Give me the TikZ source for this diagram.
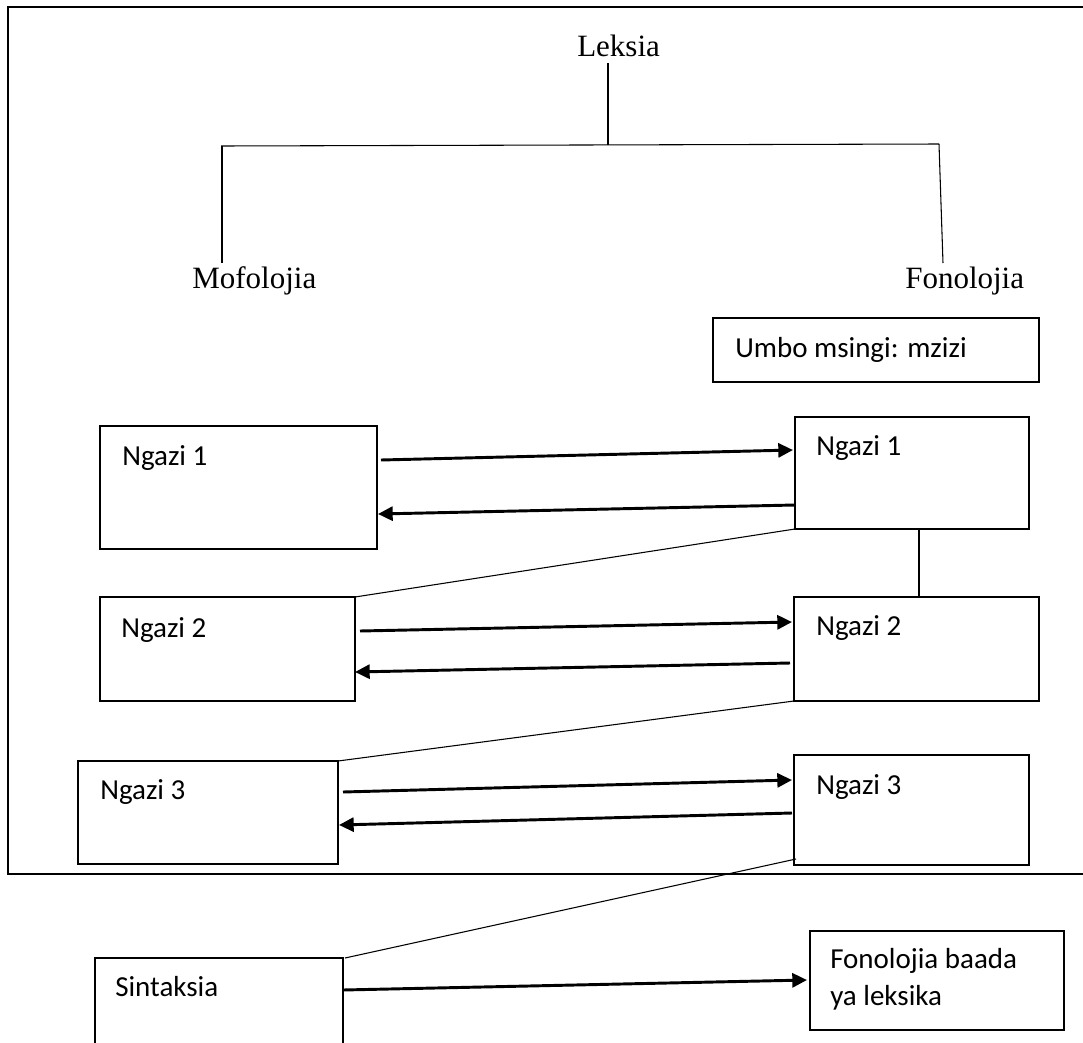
\documentclass[tikz,border=0pt]{standalone}
\usepackage{fontspec}
\setmainfont{Liberation Serif}
\newfontfamily\calfont{Carlito}
\usetikzlibrary{arrows.meta,calc,fit}
\tikzset{
  boxnode/.style={draw=black, line width=1.1pt, inner sep=0pt, outer sep=0pt, rectangle},
  serifl/.style={anchor=base west, inner sep=0pt, font=\fontsize{23.25pt}{28pt}\selectfont},
  cal/.style={anchor=base west, inner sep=0pt, font=\calfont\fontsize{21.75pt}{26pt}\selectfont},
  arr/.style={line width=2.2pt, -{Triangle[length=11pt,width=10.5pt]}},
  thin/.style={line width=0.8pt},
  framel/.style={line width=1.9pt}
}
\begin{document}
\begin{tikzpicture}[x=0.75pt,y=-0.75pt]
\useasboundingbox (0,0) rectangle (1083,1043);
% outer frame
\draw[framel] (8,7) rectangle (1095,874);
% tree
\node[serifl] (lek) at (577,56) {Leksia};
\node[serifl] (mof) at (192,288) {Mofolojia};
\node[serifl] (fon) at (905,288) {Fonolojia};
\coordinate (ltop) at (608,63);
\coordinate (lmid) at (608,145);
\coordinate (hl) at (221,146);
\coordinate (hr) at (939,144);
\coordinate (mofT) at (222,263);
\coordinate (fonT) at (943,263);
\draw[thin] (ltop) -- (lmid);
\draw[thin] (hl) -- (hr);
\draw[thin] (222,146) -- (mofT);
\draw[thin] (hr) -- (fonT);
% boxes
\node[boxnode, fit={(713,318) (1039,382)}] (umbo) {};
\node[cal] (umbot) at (735,357) {Umbo msingi: mzizi};
\node[boxnode, fit={(100,426) (377,549)}] (L1) {};
\node[boxnode, fit={(795,417) (1029,529)}] (R1) {};
\node[boxnode, fit={(100,597) (355,701)}] (L2) {};
\node[boxnode, fit={(794,597) (1039,701)}] (R2) {};
\node[boxnode, fit={(78,761) (338,864)}] (L3) {};
\node[boxnode, fit={(794,755) (1029,865)}] (R3) {};
\node[boxnode, fit={(95,958) (343,1070)}] (S) {};
\node[boxnode, fit={(810,931) (1064,1030)}] (F) {};
% texts
\node[cal] (L1t) at (122,465) {Ngazi 1};
\node[cal] (R1t) at (816,455) {Ngazi 1};
\node[cal] (L2t) at (121,637) {Ngazi 2};
\node[cal] (R2t) at (816,635) {Ngazi 2};
\node[cal] (L3t) at (100,799) {Ngazi 3};
\node[cal] (R3t) at (816,794) {Ngazi 3};
\node[cal] (St) at (115,996) {Sintaksia};
\node[cal] (Ft1) at (830,968) {Fonolojia baada};
\node[cal] (Ft2) at (830,1005) {ya leksika};
% arrows
\draw[arr] ($(L1.north east)+(4,34)$) -- ($(R1.north west)+(-2,33)$);
\draw[arr] ($(R1.north west)+(0,88)$) -- ($(L1.north east)+(1,88)$);
\draw[arr] ($(L2.north east)+(5,34)$) -- ($(R2.north west)+(-2,25)$);
\draw[arr] ($(R2.north west)+(-4,66)$) -- ($(L2.north east)+(0,75)$);
\draw[arr] ($(L3.north east)+(5,31)$) -- ($(R3.north west)+(-2,25)$);
\draw[arr] ($(R3.north west)+(-2,58)$) -- ($(L3.north east)+(1,64)$);
\draw[arr] ($(S.north east)+(0,32)$) -- ($(F.north west)+(-3,49)$);
% thin connectors
\draw[thin] (R1.south west) -- (L2.north east);
\draw[thin] ($(R1.south west)+(124,0)$) -- ($(R2.north west)+(125,0)$);
\draw[thin] (R2.south west) -- (L3.north east);
\draw[thin] ($(R3.south west)+(2,-6)$) -- ($(S.north east)+(2,0)$);
\end{tikzpicture}
\end{document}
